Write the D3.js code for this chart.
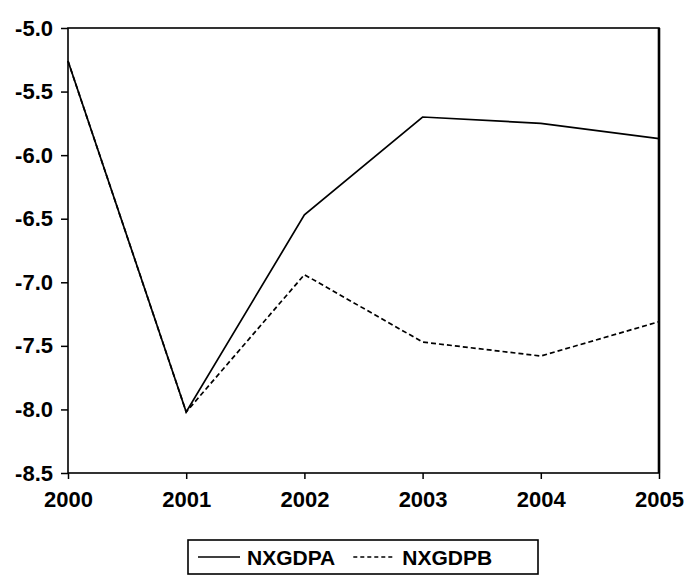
<!DOCTYPE html>
<html>
<head>
<meta charset="utf-8">
<script src="https://cdn.jsdelivr.net/npm/d3@7"></script>
<style>
  body { margin: 0; background: #fff; }
  text { font-family: "Liberation Sans", Arial, sans-serif; font-weight: bold; fill: #000; }
</style>
</head>
<body>
<script>
const years = [2000, 2001, 2002, 2003, 2004, 2005];
const nxgdpa = [-5.26, -8.02, -6.47, -5.70, -5.75, -5.87];
const nxgdpb = [-5.26, -8.02, -6.94, -7.47, -7.58, -7.31];
const yTicks = [-5.0, -5.5, -6.0, -6.5, -7.0, -7.5, -8.0, -8.5];
const seriesNames = ["NXGDPA", "NXGDPB"];

const width = 687, height = 575;
const margin = {top: 28, right: 28, bottom: 102, left: 68};

const svg = d3.select("body").append("svg")
  .attr("width", width)
  .attr("height", height);

const x = d3.scaleLinear()
  .domain([2000, 2005])
  .range([margin.left, width - margin.right]);

const y = d3.scaleLinear()
  .domain([-8.5, -5.0])
  .range([height - margin.bottom, margin.top]);

// frame (right side is heavier in the print)
svg.append("rect")
  .attr("x", x(2000))
  .attr("y", y(-5.0))
  .attr("width", x(2005) - x(2000))
  .attr("height", y(-8.5) - y(-5.0))
  .attr("fill", "none")
  .attr("stroke", "#000")
  .attr("stroke-width", 1.6);
svg.append("line")
  .attr("x1", x(2005)).attr("x2", x(2005))
  .attr("y1", y(-5.0)).attr("y2", y(-8.5))
  .attr("stroke", "#000")
  .attr("stroke-width", 2.6);

const yAxis = svg.append("g")
  .attr("transform", `translate(${x(2000)},0)`)
  .call(d3.axisLeft(y).tickValues(yTicks).tickSize(7).tickPadding(8))
yAxis.select(".domain").remove();
yAxis.selectAll("line").attr("stroke-width", 1.5);
yAxis.selectAll("text").style("font-size", "22px").text(d => d3.format(".1f")(d).replace("−", "-"));

const xAxis = svg.append("g")
  .attr("transform", `translate(0,${y(-8.5)})`)
  .call(d3.axisBottom(x).tickValues(years).tickFormat(d3.format("d")).tickSize(6).tickPadding(12))
xAxis.select(".domain").remove();
xAxis.selectAll("line").attr("stroke-width", 1.5);
xAxis.selectAll("text").style("font-size", "22px");

const line = d3.line()
  .x((d, i) => x(years[i]))
  .y(d => y(d));

svg.append("path")
  .datum(nxgdpa)
  .attr("d", line)
  .attr("fill", "none")
  .attr("stroke", "#000")
  .attr("stroke-width", 1.7);

svg.append("path")
  .datum(nxgdpb)
  .attr("d", line)
  .attr("fill", "none")
  .attr("stroke", "#000")
  .attr("stroke-width", 1.7)
  .attr("stroke-dasharray", "5,3");

// legend
const legend = svg.append("g").attr("transform", "translate(188,540)");
legend.append("rect")
  .attr("x", 0).attr("y", 0)
  .attr("width", 350).attr("height", 34)
  .attr("fill", "none")
  .attr("stroke", "#000")
  .attr("stroke-width", 1.6);

let lx = 10;
seriesNames.forEach(function(name, i) {
  legend.append("line")
    .attr("x1", lx).attr("x2", lx + 42)
    .attr("y1", 17).attr("y2", 17)
    .attr("stroke", "#000")
    .attr("stroke-width", 1.5)
    .attr("stroke-dasharray", i === 1 ? "4,3" : null);
  const t = legend.append("text")
    .attr("x", lx + 49)
    .attr("y", 25)
    .style("font-size", "21px")
    .text(name);
  lx += 49 + t.node().getComputedTextLength() + 18;
});
</script>
</body>
</html>
